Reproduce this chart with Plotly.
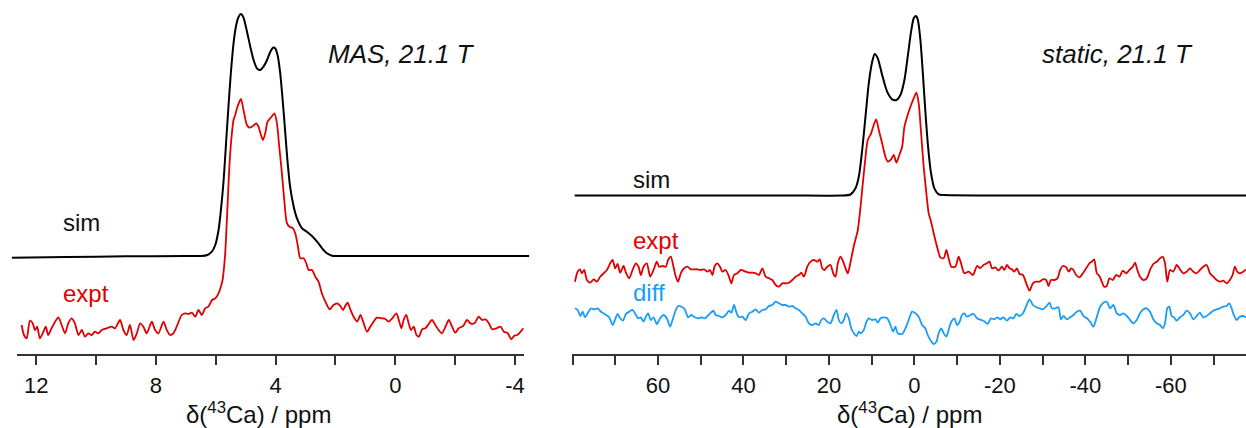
import plotly.graph_objects as go

# ---------------- data ----------------
# MAS, 21.1 T : chemical shift (ppm) and intensity (a.u., 0 = axis line)
mas_sim_ppm = [12.81, 11.0, 9.0, 7.0, 6.515, 6.29, 6.124, 6.01, 5.90, 5.81, 5.73, 5.65, 5.57,
               5.49, 5.40, 5.31, 5.23, 5.15, 5.07, 4.95, 4.84, 4.73, 4.62, 4.51, 4.40, 4.28,
               4.17, 4.08, 4.01, 3.93, 3.84, 3.75, 3.67, 3.60, 3.51, 3.39, 3.28, 3.11, 2.95,
               2.78, 2.61, 2.44, 2.28, 2.11, 1.94, 0.0, -2.0, -4.48]
mas_sim_int = [96.3, 97.0, 97.7, 98.0, 98.0, 98.7, 102.3, 109.0, 124.0, 147.3, 174.0, 210.7, 247.3,
               280.7, 310.7, 329.0, 337.3, 340.0, 336.7, 322.3, 307.3, 294.0, 285.7, 284.0, 287.3, 294.0,
               302.3, 306.3, 305.7, 299.0, 280.7, 250.7, 220.7, 194.0, 167.3, 147.3, 135.7, 125.7, 122.3,
               118.0, 112.3, 105.7, 100.7, 98.3, 98.0, 98.0, 98.0, 98.0]

mas_expt_ppm = [12.48, 12.40, 12.31, 12.20, 12.11, 12.03, 11.96, 11.87, 11.75, 11.67, 11.59, 11.48,
                11.36, 11.25, 11.14, 11.03, 10.92, 10.81, 10.70, 10.58, 10.47, 10.36, 10.25, 10.14,
                10.03, 9.92, 9.80, 9.64, 9.47, 9.36, 9.19, 9.08, 8.97, 8.86, 8.74, 8.63, 8.52, 8.41,
                8.30, 8.13, 8.02, 7.91, 7.74, 7.63, 7.52, 7.41, 7.30, 7.13, 7.02, 6.91, 6.79, 6.68,
                6.57, 6.46, 6.35, 6.24, 6.12, 6.01, 5.90, 5.79, 5.756, 5.68, 5.62, 5.535, 5.455, 5.40,
                5.344, 5.268, 5.154, 5.067, 4.953, 4.866, 4.753, 4.642, 4.565, 4.485, 4.418, 4.341,
                4.264, 4.174, 4.084, 4.030, 3.950, 3.873, 3.783, 3.706, 3.615, 3.528, 3.415, 3.338,
                3.247, 3.171, 3.060, 2.970, 2.893, 2.779, 2.669, 2.56, 2.45, 2.33, 2.19, 2.06, 1.94,
                1.83, 1.74, 1.67, 1.59, 1.50, 1.39, 1.27, 1.16, 1.07, 0.94, 0.83, 0.72, 0.61, 0.44,
                0.33, 0.22, 0.10, -0.04, -0.12, -0.21, -0.28, -0.37, -0.45, -0.53, -0.62, -0.71,
                -0.79, -0.90, -1.01, -1.12, -1.23, -1.34, -1.45, -1.56, -1.68, -1.79, -1.90, -2.01,
                -2.12, -2.27, -2.40, -2.51, -2.65, -2.79, -2.90, -3.02, -3.13, -3.24, -3.38, -3.52,
                -3.63, -3.76, -3.88, -3.97, -4.08, -4.19, -4.28]
mas_expt_int = [29, 19, 15.7, 33.3, 30.7, 24, 27.3, 15.7, 22.3, 27.3, 19, 25.7,
                32.3, 36.7, 29, 20.7, 30.7, 35.7, 30.7, 19, 24, 17.3, 20.7, 19,
                22.3, 20.7, 24, 25.7, 27.3, 25.7, 34, 24, 19, 29, 14, 20.7, 30.7, 27.3,
                20.7, 32.3, 24, 20.7, 32.3, 24, 19, 20.7, 27.3, 39, 40.7, 40, 41.3, 37.3,
                44, 39, 45.7, 47.3, 54, 55.7, 60.7, 70.7, 76, 100, 135, 190, 220.7, 234,
                239, 247.3, 255, 244, 229, 226.3, 228, 230.7, 227.3, 219, 214, 220.7,
                232.3, 235.7, 239, 240.7, 230.7, 207.3, 180.7, 154, 130.7, 127.3, 125.7, 120.7,
                107.3, 95.7, 95.7, 90.7, 84, 84, 77.3, 72.3, 60.7, 52.3, 44.7, 49, 50.7,
                48, 44, 48, 51.3, 44.7, 37.3, 32.3, 39, 32.3, 22.3, 27.3, 32.3, 36.3, 35.7,
                35, 32.3, 35.7, 40.7, 34, 25.7, 34, 39, 30.7, 24, 27.3, 19,
                17.3, 24.7, 25.7, 30, 34, 29, 24, 20.7, 27.3, 34, 27.3, 21.3,
                25.7, 28, 34, 30.7, 30.7, 37.3, 34, 34.7, 30.7, 24.7, 25.7, 27.3,
                22.3, 20.7, 14.7, 18, 19, 22.3, 25.7]

# static, 21.1 T
static_sim_ppm = [79.5, 30.0, 17.29, 14.95, 13.79, 13.01, 12.22, 11.45, 10.68, 9.88, 9.28, 8.57,
                  7.55, 6.38, 5.21, 4.21, 3.27, 2.34, 1.57, 0.78, 0.16, -0.30, -0.78, -1.40,
                  -2.03, -2.65, -3.27, -3.90, -4.67, -5.68, -6.85, -30.0, -77.6]
static_sim_int = [158.5, 158.5, 158.5, 159.5, 165.7, 177.3, 204.0, 237.3, 270.7, 292.3, 300.0, 295.7,
                  279.0, 262.3, 254.7, 254.0, 259.0, 274.0, 297.3, 322.3, 335.7, 338.0, 334.7, 314.0,
                  277.3, 237.3, 204.0, 180.7, 165.7, 159.7, 159.0, 158.5, 158.5]

static_expt_ppm = [79.44, 78.81, 78.27, 77.80, 77.27, 76.64, 75.86, 75.07, 74.30, 73.53, 72.73, 71.96,
                   71.19, 70.63, 70.02, 69.46, 68.86, 68.06, 67.45, 66.75, 65.96, 65.19, 64.56, 64.02,
                   63.39, 62.62, 61.84, 61.05, 60.28, 59.74, 58.95, 58.18, 57.64, 57.01, 56.38, 55.84,
                   55.30, 54.67, 53.90, 53.11, 52.34, 51.57, 50.79, 50.00, 49.23, 48.43, 47.83, 47.27,
                   46.73, 46.10, 45.49, 44.93, 44.16, 43.39, 42.83, 42.22, 41.43, 40.65, 39.49, 38.71,
                   37.92, 37.15, 36.38, 35.58, 34.81, 34.04, 33.25, 32.48, 31.71, 30.91, 30.14, 29.37,
                   28.57, 27.80, 27.03, 26.47, 25.86, 25.07, 24.30, 23.53, 22.73, 22.13, 21.57, 21.03,
                   20.40, 19.63, 19.00, 18.46, 17.92, 17.29, 16.66, 16.12, 15.58, 14.95, 14.18, 13.25,
                   12.45, 11.68, 10.91, 10.12, 9.51, 8.95, 8.34, 7.55, 6.78, 6.24, 5.44, 4.84, 4.21,
                   3.67, 2.87, 2.34, 1.71, 0.93, 0.16, -0.47, -1.00, -1.57, -2.17, -2.80, -3.34, -3.90,
                   -4.51, -5.30, -6.07, -6.85, -7.48, -8.01, -8.64, -9.58, -10.35, -10.91, -11.68,
                   -12.69, -13.71, -14.65, -15.42, -16.19, -16.99, -17.59, -18.15, -18.93, -19.70,
                   -20.49, -21.03, -21.66, -22.27, -22.83, -23.36, -24.00, -24.60, -25.40, -26.17,
                   -26.94, -27.73, -28.50, -29.28, -30.07, -30.84, -31.38, -31.94, -32.71, -33.48,
                   -34.11, -34.74, -35.51, -36.14, -36.68, -37.22, -37.85, -38.62, -39.42, -40.19,
                   -40.96, -41.52, -42.06, -42.69, -43.30, -43.86, -44.39, -45.02, -45.63, -46.43,
                   -47.20, -47.97, -48.76, -49.53, -50.30, -51.10, -51.64, -52.17, -52.80, -53.58,
                   -54.37, -55.14, -55.91, -56.71, -57.48, -58.11, -58.64, -59.18, -59.81, -60.58,
                   -61.38, -62.15, -62.92, -63.71, -64.49, -65.26, -66.05, -66.82, -67.59, -68.39,
                   -69.16, -69.93, -70.72, -71.50, -72.27, -73.06, -73.83, -74.46, -75.00, -75.54,
                   -76.17, -76.94, -77.57]
static_expt_int = [72.3, 82.3, 84.7, 80.7, 84, 74, 71.3, 74.7, 72.3, 77.3, 80.7, 84,
                   90.7, 94, 85.7, 90, 81.3, 88, 80.7, 75.7, 84, 90.7, 87.3, 79,
                   87.3, 90.7, 77.3, 84, 92.3, 87.3, 88, 87.3, 94, 97.3, 87.3, 77.3,
                   72.3, 80.7, 85.7, 87.3, 84.7, 84.7, 84.7, 84, 84.7, 82.3, 84, 79,
                   88, 90.7, 87.3, 82.3, 84, 77.3, 70.7, 79, 80.7, 84, 82.3, 81.3,
                   81.3, 80.7, 79, 85.7, 77.3, 75.7, 74, 69, 67.3, 70.7, 70.7, 71.3,
                   74, 77.3, 79, 81.3, 77.3, 87.3, 92.3, 94, 92.3, 94.7, 85.7, 84,
                   87.3, 89, 80.7, 77.3, 90.7, 97.3, 92.3, 85.7, 80.7, 92, 108, 124,
                   154, 187.3, 214, 220.7, 229, 234.7, 224, 210.7, 197.3, 192.3, 194.7, 199, 191.3,
                   197.3, 207.3, 227.3, 237.3, 247.3, 255.7, 261.3, 250.7, 220.7, 187.3, 160.7, 140.7, 132.3,
                   120.7, 107.3, 96.7, 95.7, 104, 95.7, 87.3, 87.3, 97.3, 90.7, 80.7,
                   82.3, 79, 88, 86, 89, 90.7, 92.3, 85.7, 86.7, 83.3,
                   87.3, 84, 89, 85.7, 84.7, 82.3, 85.7, 80, 79, 70.7,
                   63.3, 70.7, 72.3, 72.3, 74.7, 74, 68, 74, 74, 75.7,
                   84, 88, 86.7, 82.3, 85.7, 84, 79, 76.7, 80.7, 85.7,
                   90.7, 92.3, 94.7, 80.7, 78, 72.3, 67.3, 68, 75.7, 74,
                   79, 77.3, 83.3, 80.7, 84, 87.3, 91.3, 84, 77.3, 74,
                   75.7, 84, 90, 92.3, 95.7, 97.3, 90.7, 72.3, 84, 82.3,
                   89, 84.7, 80.7, 82.3, 85.7, 82.3, 80.7, 84, 87.3, 89,
                   80.7, 77.3, 74, 72.3, 73.3, 70.7, 74, 79, 87.3, 82.3,
                   80.7, 82.3, 84.7]

static_diff_ppm = [79.44, 78.81, 78.19, 77.64, 77.10, 76.47, 75.70, 74.93, 74.14, 73.36, 72.73, 72.20,
                   71.42, 70.63, 70.09, 69.46, 68.86, 68.22, 67.52, 66.75, 65.96, 65.19, 64.65, 64.02,
                   63.39, 62.85, 62.31, 61.68, 61.05, 60.28, 59.51, 58.71, 57.94, 57.17, 56.61, 55.84,
                   55.30, 54.51, 53.74, 52.97, 52.17, 51.40, 50.63, 49.84, 49.07, 48.43, 47.66, 47.03,
                   46.50, 45.72, 44.93, 44.16, 43.39, 42.83, 42.22, 41.59, 41.05, 40.26, 39.49, 38.71,
                   37.92, 37.15, 36.38, 35.58, 34.81, 34.04, 33.25, 32.48, 31.71, 30.91, 30.14, 29.37,
                   28.57, 27.80, 27.03, 26.24, 25.47, 24.70, 23.90, 23.13, 22.36, 21.80, 21.19, 20.40,
                   19.63, 18.85, 18.22, 17.69, 17.13, 16.51, 15.96, 15.35, 14.79, 14.18, 13.55, 13.01,
                   12.62, 11.85, 11.21, 10.68, 9.88, 9.11, 8.57, 7.94, 7.17, 6.38, 5.61, 4.98, 4.44,
                   3.90, 2.87, 2.10, 1.33, 0.54, -0.23, -1.00, -1.80, -2.57, -3.11, -3.74, -4.51,
                   -5.14, -5.68, -6.24, -6.85, -7.48, -8.01, -8.64, -9.35, -9.98, -10.58, -11.14,
                   -11.68, -12.31, -13.08, -13.86, -14.65, -15.42, -16.19, -17.13, -17.92, -18.69,
                   -19.46, -20.09, -20.86, -21.66, -22.43, -23.20, -23.83, -24.60, -25.40, -26.17,
                   -26.94, -27.73, -28.50, -29.28, -30.07, -30.84, -31.61, -32.17, -32.94, -33.72,
                   -34.28, -34.88, -35.68, -36.45, -37.22, -38.01, -38.79, -39.56, -40.35, -41.12,
                   -41.89, -42.69, -43.46, -44.23, -45.02, -45.79, -46.57, -47.36, -48.13, -48.90,
                   -49.70, -50.47, -51.24, -52.03, -52.80, -53.58, -54.37, -55.14, -55.91, -56.71,
                   -57.48, -58.11, -58.64, -59.18, -59.65, -60.21, -60.75, -61.38, -62.15, -62.92,
                   -63.71, -64.49, -65.26, -66.05, -66.82, -67.59, -68.39, -69.16, -69.93, -70.72,
                   -71.50, -72.27, -73.06, -73.67, -74.23, -74.77, -75.40, -76.01, -76.80, -77.57]
static_diff_int = [45.7, 44, 38, 42.3, 36.7, 40.7, 45.7, 44.7, 45.7, 42.3, 40.7, 39,
                   36.7, 29, 34, 40, 35.7, 33.3, 40, 42.3, 44, 39, 35.7, 36.7,
                   32.3, 37.3, 40.7, 34, 36.7, 30, 35.7, 39, 35.7, 27.3, 34, 44,
                   48, 47.3, 44.7, 36.7, 39, 36.7, 35.7, 36.7, 35.7, 38, 41.3, 43.3,
                   39, 38, 36.7, 39, 43.3, 41.3, 49, 40.7, 36.7, 37.3, 34, 40.7,
                   42.3, 44.7, 41.3, 44, 44.7, 48, 49, 52.3, 50.7, 49, 49, 47.3,
                   48, 45.7, 44, 40.7, 37.3, 30.7, 29, 30.7, 29, 34, 35.7, 32.3,
                   30.7, 39, 44, 34, 30.7, 34, 40.7, 35.7, 25.7, 20.7, 18, 22.3,
                   20.7, 24, 32.3, 35.7, 34, 34.7, 31.3, 35.7, 36.7, 35.7, 29, 22.3, 27.3,
                   20.7, 20, 25.7, 34, 42.3, 40.7, 37.3, 29, 25.7, 19, 14, 10,
                   12.3, 20.7, 25.7, 20.7, 17.3, 24, 32.3, 35.7, 29, 32.3, 39,
                   40.7, 37.3, 39, 40, 35.7, 34.3, 33.3, 30, 35.7, 34.7,
                   36.7, 34.7, 36.7, 33.3, 36.7, 35.7, 40, 38, 40.7, 48,
                   54.7, 49, 46.7, 45.7, 44.7, 47.3, 51.3, 45.7, 45.7, 46.7,
                   34.7, 38, 34.7, 36.7, 39, 42.3, 43.3, 38, 35.7, 32.3,
                   27.3, 37.3, 47.3, 51.3, 52.3, 45.7, 49, 40.7, 39, 40.7,
                   38, 34, 30.7, 34, 40.7, 44.7, 45.7, 42.3, 34.7, 30.7,
                   29, 25.7, 30.7, 45.7, 47.3, 38, 36.7, 33.3, 36.7, 39,
                   43.3, 40.7, 34.7, 38, 41.3, 36.7, 38, 40.7, 43.3, 44.7,
                   45.7, 47.3, 48, 50.7, 45.7, 38.7, 34, 36.7, 38, 36.7]

# axis ticks: labelled ticks (with plain hyphen minus as in the reference) and minor step
mas_tickvals = [12, 8, 4, 0, -4]
mas_ticktext = ["12", "8", "4", "0", "-4"]
mas_minor_step = 2
static_tickvals = [60, 40, 20, 0, -20, -40, -60]
static_ticktext = ["60", "40", "20", "0", "-20", "-40", "-60"]
static_minor_step = 10

# ---------------- styling ----------------
W, H = 1246, 428
PLOT_H = 354  # px from top to axis line
BLACK = "#000000"
RED = "#e00000"
BLUE = "#1a9ef5"
AXC = "#333333"
LAB_FONT = "Liberation Sans, Arial, sans-serif"


def px(x):
    return x / W


def py(y):
    return (PLOT_H - y) / PLOT_H


fig = go.Figure()
spl = dict(shape="spline", smoothing=0.7)
fig.add_trace(go.Scatter(x=mas_sim_ppm, y=mas_sim_int, xaxis="x", yaxis="y", mode="lines",
                         line=dict(color=BLACK, width=2, **spl), hoverinfo="skip"))
fig.add_trace(go.Scatter(x=mas_expt_ppm, y=mas_expt_int, xaxis="x", yaxis="y", mode="lines",
                         line=dict(color=RED, width=1.8, **spl), hoverinfo="skip"))
fig.add_trace(go.Scatter(x=static_sim_ppm, y=static_sim_int, xaxis="x2", yaxis="y2", mode="lines",
                         line=dict(color=BLACK, width=2, **spl), hoverinfo="skip"))
fig.add_trace(go.Scatter(x=static_expt_ppm, y=static_expt_int, xaxis="x2", yaxis="y2", mode="lines",
                         line=dict(color=RED, width=1.8, **spl), hoverinfo="skip"))
fig.add_trace(go.Scatter(x=static_diff_ppm, y=static_diff_int, xaxis="x2", yaxis="y2", mode="lines",
                         line=dict(color=BLUE, width=1.8, **spl), hoverinfo="skip"))
# empty trace so that the MAS display axis (x3) gets drawn
fig.add_trace(go.Scatter(x=[], y=[], xaxis="x3", yaxis="y3", mode="lines", hoverinfo="skip"))

tickstyle = dict(showline=True, linecolor=AXC, linewidth=2, ticks="outside", ticklen=9,
                 tickwidth=1.5, tickcolor=AXC, showgrid=False, zeroline=False,
                 tickfont=dict(family=LAB_FONT, size=22, color="#111111"),
                 ticklabelstandoff=2, fixedrange=True, automargin=False, tickmode="array")
minorstyle = dict(ticks="outside", ticklen=9, tickwidth=1.5, tickcolor=AXC, showgrid=False, tick0=0)

fig.update_layout(
    width=W, height=H,
    margin=dict(l=0, r=0, t=0, b=H - PLOT_H, pad=0, autoexpand=False),
    paper_bgcolor="white", plot_bgcolor="rgba(0,0,0,0)",
    showlegend=False,
    xaxis=dict(domain=[px(11.7), px(529.3)], range=[12.81, -4.48], visible=False, anchor="y"),
    yaxis=dict(domain=[0, 1], range=[0, PLOT_H], visible=False, anchor="x"),
    xaxis2=dict(domain=[px(571.7), 1.0], range=[80.2, -77.6], anchor="y2",
                tickvals=static_tickvals, ticktext=static_ticktext,
                minor=dict(dtick=static_minor_step, **minorstyle), **tickstyle),
    yaxis2=dict(domain=[0, 1], range=[0, PLOT_H], visible=False, anchor="x2"),
    xaxis3=dict(domain=[px(16.7), px(524)], range=[12.65, -4.30], anchor="y3",
                tickvals=mas_tickvals, ticktext=mas_ticktext,
                minor=dict(dtick=mas_minor_step, **minorstyle), **tickstyle),
    yaxis3=dict(domain=[0, 1], range=[0, 1], visible=False, anchor="x3"),
)

ann = []


def label(text, x, y, color, size=24, italic=False, xanchor="left", family=LAB_FONT):
    t = f"<i>{text}</i>" if italic else text
    ann.append(dict(text=t, x=px(x), y=py(y), xref="paper", yref="paper",
                    xanchor=xanchor, yanchor="middle", showarrow=False,
                    font=dict(family=family, size=size, color=color)))


label("MAS, 21.1 T", 326, 54, "#111111", size=26, italic=True)
label("static, 21.1 T", 1040, 54, "#111111", size=26, italic=True)
label("sim", 61, 222, "#111111")
label("expt", 61, 293, RED)
label("sim", 631, 179, "#111111")
label("expt", 631, 240, RED)
label("diff", 631, 292, BLUE)
label("δ(<sup>43</sup>Ca) / ppm", 258, 413, "#111111", size=24, xanchor="center")
label("δ(<sup>43</sup>Ca) / ppm", 909, 413, "#111111", size=24, xanchor="center")
fig.update_layout(annotations=ann)

fig.write_html("out.html", config={"displayModeBar": False},
               post_script="document.body.style.margin='0';")
